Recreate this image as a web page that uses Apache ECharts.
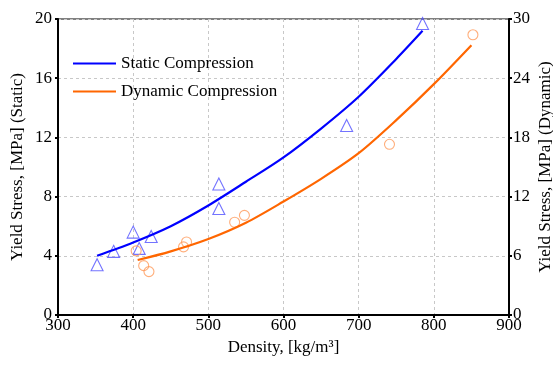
<!DOCTYPE html>
<html>
<head>
<meta charset="utf-8">
<script src="https://cdn.jsdelivr.net/npm/echarts@6/dist/echarts.min.js"></script>
<style>
  html, body { margin: 0; padding: 0; background: #fff; }
  #chart { width: 553px; height: 367px; }
</style>
</head>
<body>
<div id="chart"></div>
<script>
// measured points
const staticDensity = [352, 374, 400, 408, 424, 514, 514, 684, 785];
const staticStress = [3.4, 4.3, 5.6, 4.5, 5.3, 8.85, 7.2, 12.8, 19.7];
const dynamicDensity = [404, 414, 421, 467, 471, 535, 548, 741, 852];
const dynamicStress = [6.5, 5.0, 4.4, 6.9, 7.4, 9.4, 10.1, 17.3, 28.4];

// fitted curves
const staticFitX = [352, 400, 450, 500, 550, 600, 650, 700, 750, 785];
const staticFitY = [4.0, 4.9, 6.0, 7.4, 9.0, 10.65, 12.6, 14.75, 17.3, 19.2];
const dynamicFitX = [406, 450, 500, 550, 600, 650, 700, 750, 800, 850];
const dynamicFitY = [5.57, 6.45, 7.7, 9.35, 11.5, 13.8, 16.4, 19.75, 23.4, 27.35];

const xTicks = [300, 900, 100];
const leftTicks = [0, 20, 4];
const rightTicks = [0, 30, 6];

const pairs = (xs, ys) => xs.map((x, i) => [x, ys[i]]);
const font = 'Liberation Serif';
const fs = 17;

const chart = echarts.init(document.getElementById('chart'));
chart.setOption({
  animation: false,
  textStyle: { fontFamily: font },
  grid: {
    left: 58, right: 44, top: 19, bottom: 52,
    outerBoundsMode: 'none', containLabel: false,
    show: true, borderColor: '#808080', borderWidth: 2
  },
  legend: {
    left: 68, top: 50, orient: 'vertical', itemGap: 11,
    itemWidth: 43, itemHeight: 2, icon: 'rect',
    textStyle: { fontFamily: font, fontSize: fs, color: '#000' },
    data: ['Static Compression', 'Dynamic Compression']
  },
  xAxis: {
    type: 'value', min: xTicks[0], max: xTicks[1], interval: xTicks[2],
    name: 'Density, [kg/m³]', nameLocation: 'middle', nameGap: 23,
    nameTextStyle: { fontFamily: font, fontSize: fs, color: '#000' },
    axisLine: { show: true, lineStyle: { color: '#000', width: 2 } },
    axisTick: { show: true, length: 3, lineStyle: { color: '#000', width: 2 } },
    axisLabel: { fontFamily: font, fontSize: fs, color: '#000', margin: 2 },
    splitLine: { show: true, lineStyle: { color: '#c8c8c8', type: [3, 3] } }
  },
  yAxis: [
    {
      type: 'value', min: leftTicks[0], max: leftTicks[1], interval: leftTicks[2],
      position: 'left',
      name: 'Yield Stress, [MPa] (Static)', nameLocation: 'middle', nameGap: 32,
      nameMoveOverlap: false,
      nameTextStyle: { fontFamily: font, fontSize: fs, color: '#000' },
      axisLine: { show: true, lineStyle: { color: '#000', width: 2 } },
      axisTick: { show: true, length: 3, lineStyle: { color: '#000', width: 2 } },
      axisLabel: { fontFamily: font, fontSize: fs, color: '#000', margin: 6 },
      splitLine: { show: true, lineStyle: { color: '#c8c8c8', type: [3, 3] } }
    },
    {
      type: 'value', min: rightTicks[0], max: rightTicks[1], interval: rightTicks[2],
      position: 'right',
      name: 'Yield Stress, [MPa] (Dynamic)', nameLocation: 'middle', nameGap: 28,
      nameRotate: 90, nameMoveOverlap: false,
      nameTextStyle: { fontFamily: font, fontSize: fs, color: '#000' },
      axisLine: { show: true, lineStyle: { color: '#000', width: 2 } },
      axisTick: { show: true, length: 3, lineStyle: { color: '#000', width: 2 } },
      axisLabel: { fontFamily: font, fontSize: fs, color: '#000', margin: 4 },
      splitLine: { show: false }
    }
  ],
  series: [
    {
      name: 'Static Compression', type: 'line', yAxisIndex: 0,
      data: pairs(staticFitX, staticFitY), smooth: 0.3, showSymbol: false,
      lineStyle: { color: '#0000ff', width: 2.2 }, itemStyle: { color: '#0000ff' }, z: 3
    },
    {
      name: 'Dynamic Compression', type: 'line', yAxisIndex: 1,
      data: pairs(dynamicFitX, dynamicFitY), smooth: 0.3, showSymbol: false,
      lineStyle: { color: '#ff6600', width: 2.2 }, itemStyle: { color: '#ff6600' }, z: 3
    },
    {
      name: 'static points', type: 'scatter', yAxisIndex: 0,
      data: pairs(staticDensity, staticStress),
      symbol: 'triangle', symbolSize: 12,
      itemStyle: { color: 'rgba(0,0,0,0)', borderColor: '#5050ff', borderWidth: 1.1 }, z: 2
    },
    {
      name: 'dynamic points', type: 'scatter', yAxisIndex: 1,
      data: pairs(dynamicDensity, dynamicStress),
      symbol: 'circle', symbolSize: 10,
      itemStyle: { color: 'rgba(0,0,0,0)', borderColor: '#ff9a5a', borderWidth: 1.1 }, z: 2
    }
  ]
});
</script>
</body>
</html>
